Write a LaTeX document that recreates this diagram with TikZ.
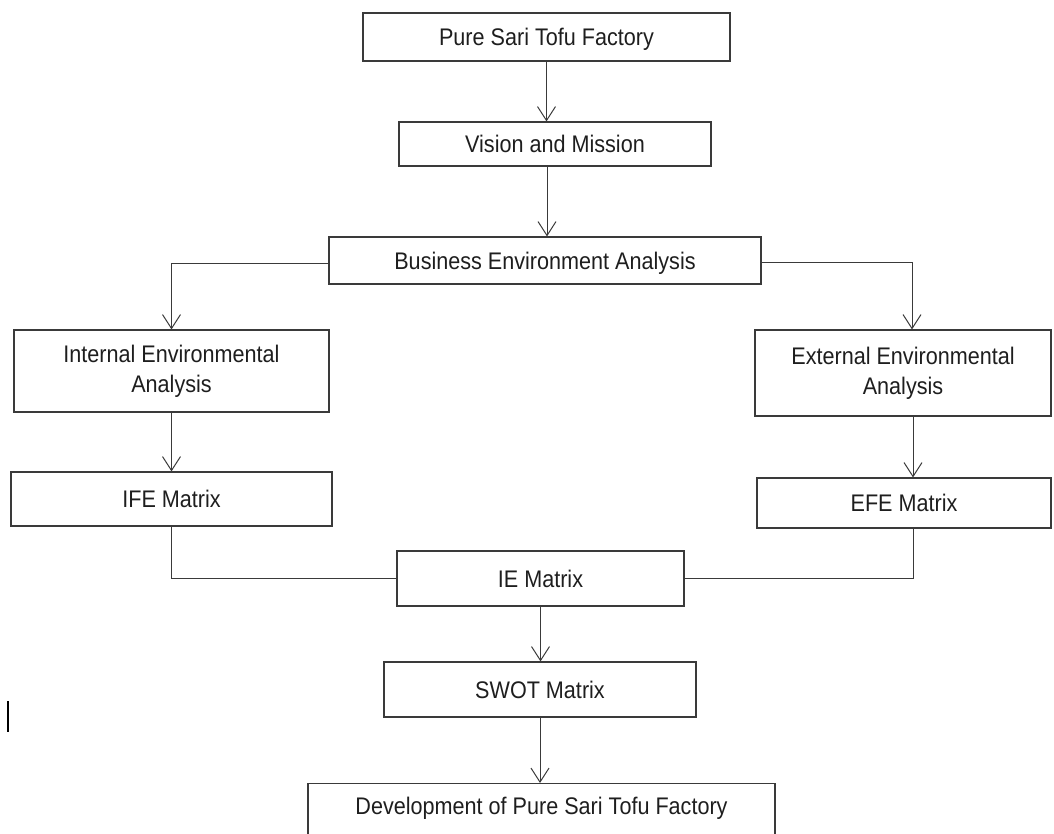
\documentclass[tikz,border=0pt]{standalone}
\usepackage{fontspec}
\setmainfont{Liberation Sans}[FakeStretch=0.9]
\usetikzlibrary{arrows.meta}
\definecolor{linec}{HTML}{3A3A3A}
\definecolor{textc}{HTML}{1E1E1E}
\begin{document}
\begin{tikzpicture}[x=1pt,y=-1pt,
  box/.style={draw=linec, line width=1.1pt, inner sep=0pt, text=textc,
    font=\fontsize{24}{30}\selectfont, align=center},
  one/.style={text height=17.2pt, text depth=0pt},
  conn/.style={draw=linec, line width=1pt},
  arr/.style={conn, -{Straight Barb[length=14pt,width=18pt,line width=1pt]}}]
\useasboundingbox (0,0) rectangle (1054,834);
\clip (0,0) rectangle (1054,834);

\node[box, one, minimum width=367pt, minimum height=48pt] (top) at (546.5,37) {Pure Sari Tofu Factory};
\node[box, one, minimum width=312pt, minimum height=44pt] (vis) at (555,144) {Vision and Mission};
\node[box, one, minimum width=432pt, minimum height=47pt] (bea) at (545,260.5) {Business Environment Analysis};
\node[box, minimum width=315pt, minimum height=82pt] (int) at (171.5,371) {Internal Environmental\\Analysis};
\node[box, minimum width=296pt, minimum height=86pt] (ext) at (903,373) {External Environmental\\Analysis};
\node[box, one, minimum width=321pt, minimum height=54pt] (ife) at (171.5,499) {IFE Matrix};
\node[box, one, minimum width=294pt, minimum height=50pt] (efe) at (904,503) {EFE Matrix};
\node[box, one, minimum width=287pt, minimum height=55pt] (ie) at (540.5,578.5) {IE Matrix};
\node[box, one, minimum width=312pt, minimum height=55pt] (swot) at (540,689.5) {SWOT Matrix};
\node[box, anchor=north, minimum width=467pt, text height=17.2pt, text depth=45pt, inner ysep=14pt] (dev) at (541.5,783) {Development of Pure Sari Tofu Factory};

\draw[arr] (top.south) -- (top.south |- vis.north);
\draw[arr] ([xshift=-8pt]vis.south) -- ([xshift=-8pt]vis.south |- bea.north);
\draw[arr] ([yshift=-3.5pt]bea.west) -| (int.north);
\draw[arr] ([yshift=-2.5pt]bea.east) -| ([xshift=9pt]ext.north);
\draw[arr] (int.south) -- (int.south |- ife.north);
\draw[arr] ([xshift=10pt]ext.south) -- ([xshift=10pt]ext.south |- efe.north);
\draw[conn] (ife.south) |- (ie.west);
\draw[conn] ([xshift=9pt]efe.south) |- (ie.east);
\draw[arr] (ie.south) -- (ie.south |- swot.north);
\draw[arr] (swot.south) -- (swot.south |- dev.north);

\draw[line width=1.5pt, black] (8,701) -- (8,732);
\end{tikzpicture}
\end{document}
